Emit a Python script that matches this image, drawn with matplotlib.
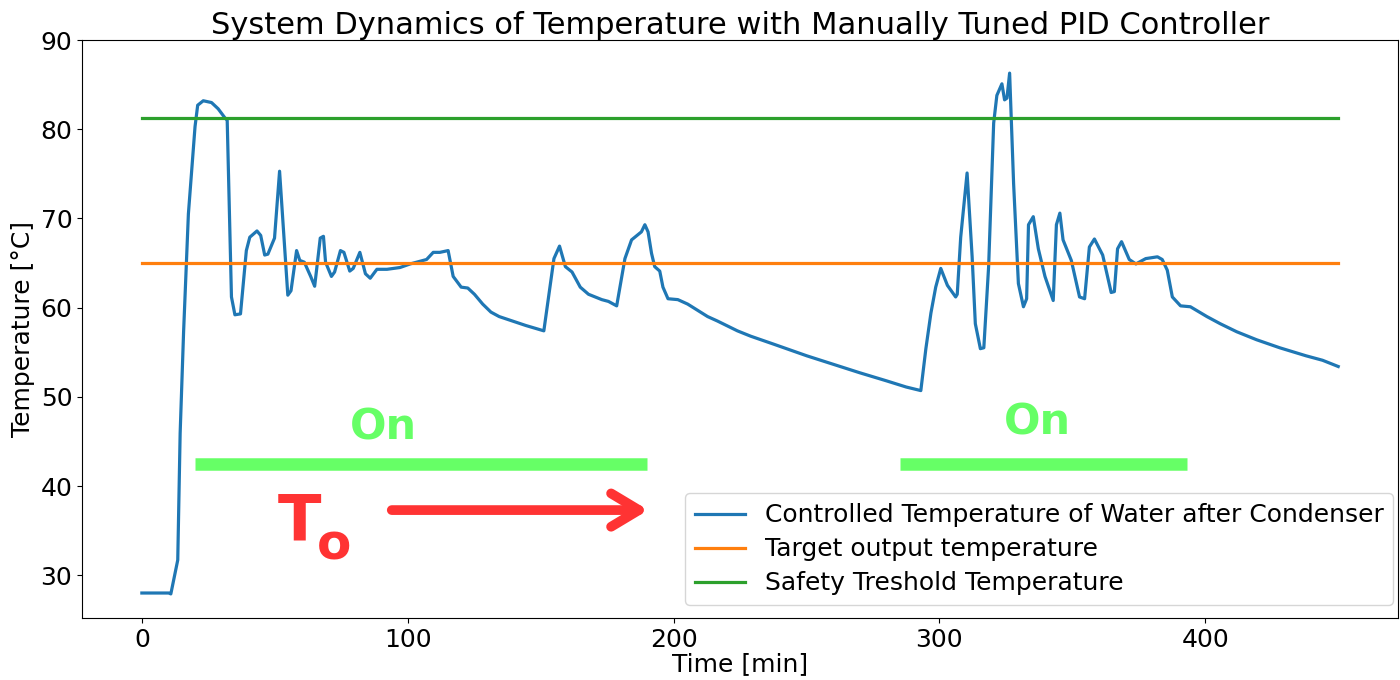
import numpy as np
import matplotlib
matplotlib.use('Agg')
import matplotlib.pyplot as plt

time_min = [0, 10.1, 10.9, 13.5, 14.4, 15.7, 17.5, 20.0, 21.0, 23.1, 26.2, 28.7, 31.2, 32.1,
            33.7, 35.0, 37.1, 39.3, 40.6, 43.3, 44.7, 46.2, 47.4, 49.9, 51.8, 54.9, 56.1,
            58.2, 59.4, 61.1, 63.5, 65.0, 67.1, 68.3, 69.1, 71.3, 72.5, 74.7, 76.0, 78.2,
            79.5, 82.0, 84.1, 85.9, 88.4, 92.2, 97.1, 100.9, 103.4, 107.1, 109.6, 112.1,
            115.2, 117.1, 120.1, 122.6, 125.1, 128.2, 131.3, 134.4, 139.4, 144.4, 151.2,
            155.0, 157.1, 159.3, 161.8, 164.9, 168.0, 173.0, 175.5, 178.6, 181.7, 184.2,
            187.9, 189.2, 190.4, 191.7, 192.9, 194.8, 196.0, 197.9, 201.6, 205.3, 212.8,
            216.5, 224.0, 229.0, 237.7, 250.1, 262.6, 270.0, 280.0, 287.5, 293.0, 294.9,
            296.8, 298.6, 300.5, 303.0, 306.1, 306.7, 308.0, 310.4, 312.3, 313.5, 315.4,
            316.7, 318.5, 320.4, 321.6, 323.5, 324.5, 325.4, 326.4, 327.9, 329.7, 331.6,
            332.8, 333.5, 335.3, 337.2, 339.7, 342.8, 344.0, 345.3, 346.5, 349.6, 352.7,
            354.6, 356.4, 358.3, 361.4, 364.6, 365.8, 367.0, 368.5, 371.4, 373.9, 377.6,
            382.0, 383.8, 385.7, 387.6, 390.7, 394.4, 400.6, 405.6, 411.8, 419.3, 428.0,
            437.9, 444.1, 450.0]
temperature = [28.0, 28.0, 27.9, 31.7, 45.9, 57.3, 70.5, 80.3, 82.7, 83.2, 83.0, 82.3, 81.3, 81.0,
               61.2, 59.2, 59.3, 66.4, 67.9, 68.6, 68.1, 65.9, 66.0, 67.8, 75.3, 61.4, 61.9,
               66.4, 65.3, 65.1, 63.5, 62.4, 67.8, 68.0, 65.1, 63.5, 64.0, 66.4, 66.2, 64.1,
               64.4, 66.2, 63.8, 63.3, 64.3, 64.3, 64.5, 64.9, 65.1, 65.4, 66.2, 66.2,
               66.4, 63.5, 62.3, 62.2, 61.5, 60.4, 59.5, 59.0, 58.5, 58.0, 57.4,
               65.5, 66.9, 64.6, 64.0, 62.3, 61.5, 60.9, 60.7, 60.2, 65.5, 67.6,
               68.5, 69.3, 68.5, 66.1, 64.6, 64.1, 62.3, 61.0, 60.9, 60.4, 59.0,
               58.5, 57.4, 56.8, 55.9, 54.6, 53.4, 52.7, 51.8, 51.1, 50.7, 55.4,
               59.4, 62.3, 64.4, 62.5, 61.2, 61.5, 67.9, 75.1, 65.7, 58.2, 55.4,
               55.5, 64.6, 80.7, 83.8, 85.1, 83.3, 83.5, 86.3, 73.9, 62.7, 60.1,
               61.0, 69.3, 70.2, 66.6, 63.5, 60.8, 69.3, 70.6, 67.6, 65.3, 61.2,
               61.0, 66.8, 67.7, 65.9, 61.7, 61.8, 66.6, 67.4, 65.4, 64.9, 65.5,
               65.7, 65.4, 64.2, 61.2, 60.2, 60.1, 59.0, 58.2, 57.3, 56.4, 55.5,
               54.6, 54.1, 53.4]

target_temp = 65.0
safety_temp = 81.3

# heater "On" periods [min]
on_periods = [(20, 190), (285, 393)]

fig = plt.figure(figsize=(14, 6.8), dpi=100)
ax = fig.add_axes([0.0586, 0.0912, 0.94, 0.8498])

t_full = [time_min[0], time_min[-1]]
ax.plot(time_min, temperature, color='#1f77b4', lw=2.3,
        label='Controlled Temperature of Water after Condenser')
ax.plot(t_full, [target_temp, target_temp], color='#ff7f0e', lw=2.3,
        label='Target output temperature')
ax.plot(t_full, [safety_temp, safety_temp], color='#2ca02c', lw=2.3,
        label='Safety Treshold Temperature')

ax.set_xlim(-22.5, 472.5)
ax.set_ylim(25.2, 90)
ax.set_xticks([0, 100, 200, 300, 400])
ax.set_yticks([30, 40, 50, 60, 70, 80, 90])
ax.tick_params(labelsize=18)

ax.set_title('System Dynamics of Temperature with Manually Tuned PID Controller', fontsize=22, pad=4)
ax.set_xlabel('Time [min]', fontsize=18, labelpad=0)
ax.set_ylabel('Temperature [°C]', fontsize=18, labelpad=4)

# annotations
on_green = '#66ff66'
for start, end in on_periods:
    ax.plot([start, end], [42.45, 42.45], color=on_green, lw=9, solid_capstyle='butt')
ax.text(91, 46.6, 'On', color=on_green, fontsize=31, fontweight='bold', ha='center', va='center')
ax.text(337, 47.1, 'On', color=on_green, fontsize=31, fontweight='bold', ha='center', va='center')

red = '#ff3333'
ax.text(51, 33.9, 'T', color=red, fontsize=46, fontweight='bold', ha='left', va='baseline')
ax.text(66, 31.8, 'o', color=red, fontsize=36, fontweight='bold', ha='left', va='baseline')
ax.annotate('', xy=(190.5, 37.3), xytext=(94, 37.3),
            arrowprops=dict(arrowstyle='->,head_length=0.5,head_width=0.3', color=red,
                            lw=7, mutation_scale=40, shrinkA=0, shrinkB=0))

ax.legend(loc='lower right', fontsize=18, labelspacing=0.4, handlelength=2.0,
          bbox_to_anchor=(1.006, 0.0), borderaxespad=0.5)

fig.savefig('out.png', dpi=100)
